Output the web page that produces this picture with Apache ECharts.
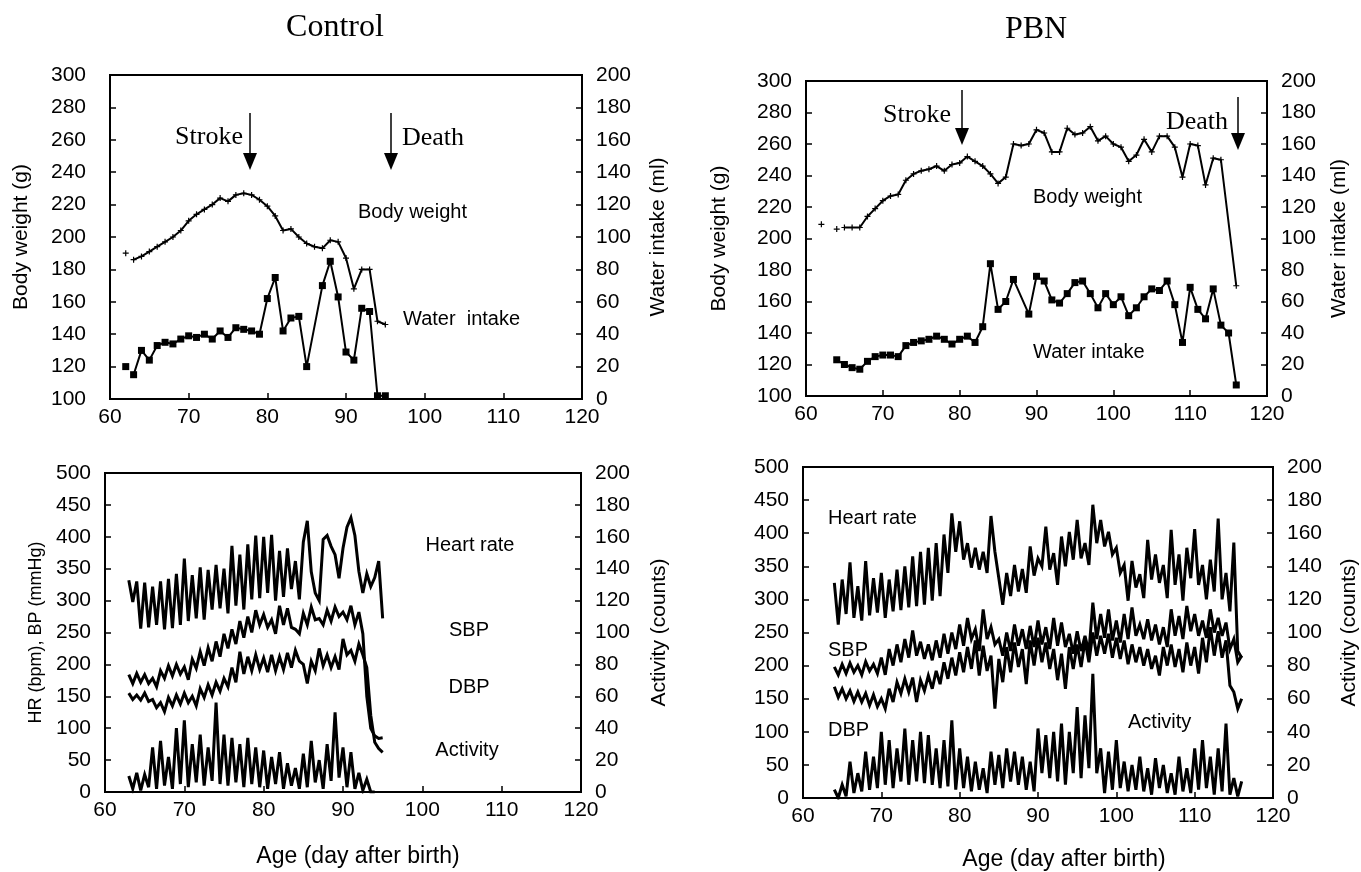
<!DOCTYPE html>
<html><head><meta charset="utf-8">
<script src="https://cdn.jsdelivr.net/npm/echarts@6/dist/echarts.min.js"></script>
<style>html,body{margin:0;padding:0;background:#fff}#c{width:1361px;height:872px}</style>
</head><body><div id="c"></div>
<script>
// ---------------- DATA ----------------
const xTickMin = 60, xTickMax = 120, xTickStep = 10;

// Control – top panel (daily)
const ctlBwDays = [62, 62.5, 63, 64, 65, 66, 67, 68, 69, 70, 71, 72, 73, 74, 75, 76, 77, 78, 79, 80, 81, 82, 83, 84, 85, 86, 87, 88, 89, 90, 91, 92, 93, 94, 95];
const ctlBw     = [190, '-', 186, 188, 191, 194, 197, 200, 204, 210, 214, 217, 220, 224, 222, 226, 227, 226, 223, 219, 213, 204, 205, 200, 196, 194, 193, 198, 197, 187, 168, 180, 180, 148, 146];
const ctlWaterDays = [62, 62.5, 63, 64, 65, 66, 67, 68, 69, 70, 71, 72, 73, 74, 75, 76, 77, 78, 79, 80, 81, 82, 83, 84, 85, 87, 88, 89, 90, 91, 92, 93, 94, 95];
const ctlWater     = [20, '-', 15, 30, 24, 33, 35, 34, 37, 39, 38, 40, 37, 42, 38, 44, 43, 42, 40, 62, 75, 42, 50, 51, 20, 70, 85, 63, 29, 24, 56, 54, 2, 2];

// PBN – top panel (daily)
const pbnBwDays = [62, 63, 64, 64.5, 65, 66, 67, 68, 69, 70, 71, 72, 73, 74, 75, 76, 77, 78, 79, 80, 81, 82, 83, 84, 85, 86, 87, 88, 89, 90, 91, 92, 93, 94, 95, 96, 97, 98, 99, 100, 101, 102, 103, 104, 105, 106, 107, 108, 109, 110, 111, 112, 113, 114, 116];
const pbnBw     = [209, '-', 206, '-', 207, 207, 207, 214, 219, 224, 227, 228, 237, 241, 243, 244, 246, 243, 247, 248, 252, 249, 246, 241, 235, 239, 260, 259, 260, 269, 267, 255, 255, 270, 266, 267, 271, 262, 265, 260, 258, 249, 253, 263, 255, 265, 265, 258, 239, 260, 259, 234, 251, 250, 170];
const pbnWaterDays = [64, 65, 66, 67, 68, 69, 70, 71, 72, 73, 74, 75, 76, 77, 78, 79, 80, 81, 82, 83, 84, 85, 86, 87, 89, 90, 91, 92, 93, 94, 95, 96, 97, 98, 99, 100, 101, 102, 103, 104, 105, 106, 107, 108, 109, 110, 111, 112, 113, 114, 115, 116];
const pbnWater     = [23, 20, 18, 17, 22, 25, 26, 26, 25, 32, 34, 35, 36, 38, 36, 33, 36, 38, 34, 44, 84, 55, 60, 74, 52, 76, 73, 61, 59, 65, 72, 73, 65, 56, 65, 58, 63, 51, 56, 63, 68, 67, 73, 58, 34, 69, 55, 49, 68, 45, 40, 7];

// Telemetry, sampled every half day
const sampleStep = 0.5;
const ctlStartDay = 63;
const ctlHR  = [332,298, 330,256, 328,258, 322,262, 330,255, 334,257, 342,262, 366,268, 340,272, 352,270, 348,286, 356,288, 350,280, 386,292, 372,286, 388,302, 402,304, 400,312, 403,300, 378,306, 382,318, 362,302, 392,425, 345,312, 300,396, 402,385, 372,335, 382,415, 430,402, 346,312, 342,322, 336,362, 272];
const ctlSBP = [184,170, 186,172, 184,170, 178,165, 190,178, 198,182, 200,185, 196,176, 208,194, 220,198, 226,205, 236,212, 248,225, 255,232, 268,242, 275,250, 285,262, 278,258, 270,248, 292,262, 288,258, 255,248, 280,262, 290,270, 272,262, 285,268, 290,275, 282,270, 292,262, 282,248, 150,100, 88,84, 85];
const ctlDBP = [155,145, 152,144, 155,142, 145,132, 140,126, 148,135, 152,138, 155,140, 150,135, 162,148, 168,152, 172,158, 178,165, 195,172, 220,185, 212,190, 215,192, 210,188, 215,190, 212,192, 218,195, 222,205, 200,170, 205,190, 225,198, 215,195, 212,192, 240,215, 222,205, 232,215, 195,120, 78,68, 62];
const ctlAct = [10,2, 12,1, 11,3, 28,2, 32,4, 22,2, 40,5, 45,3, 30,6, 36,4, 28,7, 56,5, 36,4, 34,6, 30,3, 34,5, 28,3, 26,2, 22,5, 25,2, 18,4, 15,2, 24,3, 32,6, 20,2, 30,7, 50,9, 28,3, 25,2, 12,1, 8,0, 0];

const pbnStartDay = 64;
const pbnHR  = [325,262, 330,278, 356,272, 320,268, 358,276, 332,280, 340,272, 330,282, 345,284, 350,288, 365,290, 372,292, 378,298, 385,305, 398,340, 430,372, 418,360, 385,348, 378,345, 372,340, 426,372, 332,292, 340,305, 352,312, 346,310, 380,336, 362,350, 410,345, 370,322, 395,350, 402,360, 420,362, 385,352, 443,385, 420,380, 402,368, 378,340, 352,298, 358,318, 338,302, 390,330, 368,325, 352,302, 405,322, 368,298, 378,332, 406,322, 352,300, 360,312, 422,300, 340,282, 386,222, 212];
const pbnSBP = [198,186, 202,188, 204,190, 200,186, 206,192, 202,188, 212,186, 225,200, 232,205, 240,212, 253,215, 236,210, 232,208, 238,212, 248,218, 250,225, 262,230, 272,240, 255,222, 285,240, 258,232, 240,215, 250,222, 262,230, 255,225, 260,228, 268,232, 258,225, 272,230, 265,228, 248,218, 252,222, 245,220, 295,240, 278,242, 285,238, 268,235, 278,240, 288,245, 262,240, 270,238, 262,232, 258,228, 285,245, 275,240, 290,252, 278,245, 268,242, 285,250, 272,245, 265,225, 240,205, 215];
const pbnDBP = [168,152, 165,150, 162,146, 160,145, 158,140, 156,138, 150,135, 165,145, 175,158, 180,160, 182,145, 178,162, 185,165, 192,172, 205,180, 212,185, 220,190, 228,195, 238,185, 230,192, 215,135, 210,175, 228,190, 235,198, 225,172, 238,200, 242,205, 235,195, 225,178, 218,165, 228,195, 232,198, 238,205, 250,215, 245,218, 248,212, 242,210, 238,202, 232,205, 228,200, 225,195, 215,185, 228,200, 232,198, 225,190, 235,200, 228,188, 242,205, 258,215, 252,212, 238,170, 160,135, 150];
const pbnAct = [5,0, 8,1, 22,3, 15,4, 28,5, 25,6, 40,8, 35,6, 30,10, 42,8, 35,10, 40,9, 38,8, 30,6, 35,7, 47,5, 30,6, 25,4, 22,5, 18,3, 28,8, 26,6, 30,10, 28,8, 25,5, 22,4, 42,15, 38,12, 40,10, 45,8, 40,15, 55,12, 50,18, 75,15, 30,3, 28,5, 35,6, 22,4, 20,5, 25,4, 18,2, 24,6, 20,3, 15,2, 25,4, 18,3, 30,5, 35,6, 25,2, 30,4, 45,2, 12,1, 10];

// ---------------- CHART ----------------
const SANS = "'Liberation Sans', Arial, Helvetica, sans-serif";
const SERIF = "'Liberation Serif', 'Times New Roman', serif";
const BLACK = '#000';

function pairs(days, vals) { return vals.map((v, i) => [days[i], v]); }
function halfDaySeries(start, vals) { return vals.map((v, i) => [start + i * sampleStep, v]); }

const grids = [
  {left: 110, top: 75, width: 472, height: 324},
  {left: 806, top: 81, width: 461, height: 315},
  {left: 105, top: 473, width: 476, height: 319},
  {left: 803, top: 467, width: 471, height: 331}
].map(g => Object.assign({show: true, borderColor: BLACK, borderWidth: 2, backgroundColor: 'transparent'}, g));

function xAx(gi) {
  return {type: 'value', gridIndex: gi, min: xTickMin, max: xTickMax, interval: xTickStep,
    axisLine: {show: true, onZero: false, lineStyle: {color: BLACK, width: 2}},
    axisTick: {show: true, inside: true, length: 6, lineStyle: {color: BLACK, width: 1.5}},
    axisLabel: {color: BLACK, fontFamily: SANS, fontSize: 21, margin: 8},
    splitLine: {show: false}};
}
function yAx(gi, pos, min, max, interval, name, nameGap, margin, nameSize) {
  return {type: 'value', gridIndex: gi, position: pos, min: min, max: max, interval: interval,
    name: name, nameLocation: 'middle', nameGap: nameGap,
    nameTextStyle: {color: BLACK, fontFamily: SANS, fontSize: nameSize || 21},
    axisLine: {show: true, onZero: false, lineStyle: {color: BLACK, width: 2}},
    axisTick: {show: true, inside: true, length: 6, lineStyle: {color: BLACK, width: 1.5}},
    axisLabel: {color: BLACK, fontFamily: SANS, fontSize: 21, margin: margin},
    splitLine: {show: false}};
}

const plusSym = 'path://M2,0H3V5H2Z M0,2H5V3H0Z';
function topLine(xi, yi, data, isWater) {
  return {type: 'line', xAxisIndex: xi, yAxisIndex: yi, data: data, connectNulls: false,
    symbol: isWater ? 'rect' : plusSym, symbolSize: isWater ? 7 : 6, showSymbol: true,
    itemStyle: {color: BLACK}, lineStyle: {color: BLACK, width: 2}, animation: false, silent: true};
}
function telLine(xi, yi, data) {
  return {type: 'line', xAxisIndex: xi, yAxisIndex: yi, data: data, showSymbol: false, symbol: 'none',
    lineStyle: {color: BLACK, width: 3, join: 'miter', miterLimit: 4}, animation: false, silent: true};
}

function txt(x, y, s, size, font, align) {
  return {type: 'text', x: x, y: y, silent: true,
    style: {text: s, fill: BLACK, font: size + 'px ' + font, textAlign: align || 'left', textVerticalAlign: 'middle'}};
}
function arrow(x, y1, y2) {
  return {type: 'group', silent: true, children: [
    {type: 'line', shape: {x1: x, y1: y1, x2: x, y2: y2 - 14}, style: {stroke: BLACK, lineWidth: 1.5}},
    {type: 'polygon', shape: {points: [[x - 7, y2 - 17], [x + 7, y2 - 17], [x, y2]]}, style: {fill: BLACK}}
  ]};
}

const option = {
  backgroundColor: '#fff',
  animation: false,
  grid: grids,
  xAxis: [xAx(0), xAx(1), xAx(2), xAx(3)],
  yAxis: [
    yAx(0, 'left', 100, 300, 20, 'Body weight (g)', 78, 24),
    yAx(0, 'right', 0, 200, 20, 'Water intake (ml)', 66, 14),
    yAx(1, 'left', 100, 300, 20, 'Body weight (g)', 76, 14),
    yAx(1, 'right', 0, 200, 20, 'Water intake (ml)', 62, 14),
    yAx(2, 'left', 0, 500, 50, 'HR (bpm), BP (mmHg)', 60, 14, 18),
    yAx(2, 'right', 0, 200, 20, 'Activity (counts)', 68, 14),
    yAx(3, 'left', 0, 500, 50, '', 60, 14),
    yAx(3, 'right', 0, 200, 20, 'Activity (counts)', 66, 14)
  ],
  series: [
    topLine(0, 0, pairs(ctlBwDays, ctlBw), false),
    topLine(0, 1, pairs(ctlWaterDays, ctlWater), true),
    topLine(1, 2, pairs(pbnBwDays, pbnBw), false),
    topLine(1, 3, pairs(pbnWaterDays, pbnWater), true),
    telLine(2, 4, halfDaySeries(ctlStartDay, ctlHR)),
    telLine(2, 4, halfDaySeries(ctlStartDay, ctlSBP)),
    telLine(2, 4, halfDaySeries(ctlStartDay, ctlDBP)),
    telLine(2, 5, halfDaySeries(ctlStartDay, ctlAct)),
    telLine(3, 6, halfDaySeries(pbnStartDay, pbnHR)),
    telLine(3, 6, halfDaySeries(pbnStartDay, pbnSBP)),
    telLine(3, 6, halfDaySeries(pbnStartDay, pbnDBP)),
    telLine(3, 7, halfDaySeries(pbnStartDay, pbnAct))
  ],
  graphic: [
    txt(335, 28, 'Control', 32, SERIF, 'center'),
    txt(1036, 30, 'PBN', 32, SERIF, 'center'),
    // Control top
    txt(243, 137, 'Stroke', 26, SERIF, 'right'),
    arrow(250, 113, 170),
    txt(402, 138, 'Death', 26, SERIF, 'left'),
    arrow(391, 113, 170),
    txt(358, 212, 'Body weight', 20, SANS, 'left'),
    txt(403, 319, 'Water  intake', 20, SANS, 'left'),
    // PBN top
    txt(951, 115, 'Stroke', 26, SERIF, 'right'),
    arrow(962, 90, 145),
    txt(1228, 122, 'Death', 26, SERIF, 'right'),
    arrow(1238, 97, 150),
    txt(1033, 197, 'Body weight', 20, SANS, 'left'),
    txt(1033, 352, 'Water intake', 20, SANS, 'left'),
    // Control bottom
    txt(470, 545, 'Heart rate', 20, SANS, 'center'),
    txt(469, 630, 'SBP', 20, SANS, 'center'),
    txt(469, 687, 'DBP', 20, SANS, 'center'),
    txt(467, 750, 'Activity', 20, SANS, 'center'),
    txt(358, 857, 'Age (day after birth)', 23, SANS, 'center'),
    // PBN bottom
    txt(828, 518, 'Heart rate', 20, SANS, 'left'),
    txt(828, 650, 'SBP', 20, SANS, 'left'),
    txt(828, 730, 'DBP', 20, SANS, 'left'),
    txt(1128, 722, 'Activity', 20, SANS, 'left'),
    txt(1064, 860, 'Age (day after birth)', 23, SANS, 'center')
  ]
};

const chart = echarts.init(document.getElementById('c'));
chart.setOption(option);
</script>
</body></html>
